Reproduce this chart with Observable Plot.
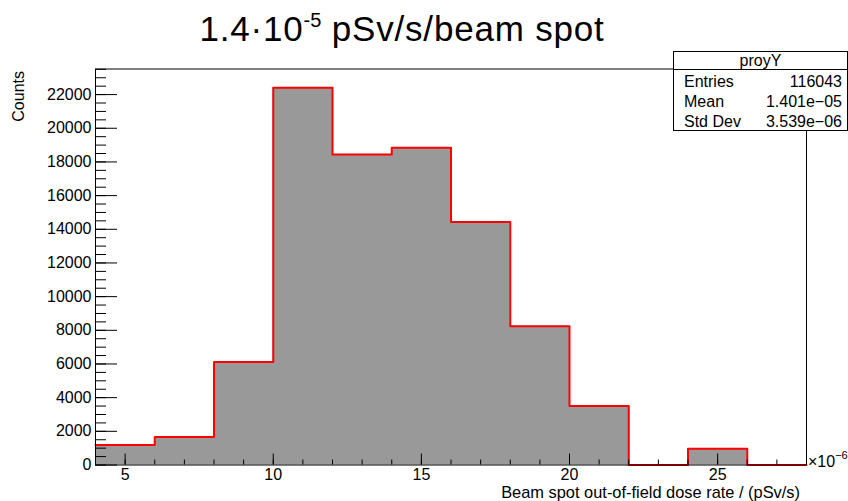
<!DOCTYPE html>
<html>
<head>
<meta charset="utf-8">
<script src="https://cdn.jsdelivr.net/npm/d3@7"></script>
<script src="https://cdn.jsdelivr.net/npm/@observablehq/plot@0.6"></script>
<style>
  body { margin: 0; background: #fff; }
  #wrap { position: relative; width: 848px; height: 501px; overflow: hidden;
          font-family: "Liberation Sans", Arial, sans-serif; color: #000; background: #fff; }
  #chart { position: absolute; left: 0; top: 0; }
  .abs { position: absolute; white-space: nowrap; line-height: 1; }
  #title { left: 0; width: 804px; text-align: center; top: 11px; font-size: 35px; letter-spacing: 0.8px; }
  #title sup { font-size: 20px; vertical-align: 0; position: relative; top: -14px; letter-spacing: 0; }
  #ylab { font-size: 16px; left: 11px; top: 71px; transform-origin: 0 0; transform: rotate(-90deg) translate(-100%, 0); }
  #xlab { font-size: 16.4px; right: 48px; top: 484px; }
  #xexp { font-size: 16px; left: 808px; top: 454px; }
  #xexp sup { font-size: 11px; position: relative; top: -8px; vertical-align: 0; }
  #stats { position: absolute; left: 673px; top: 51px; width: 173px; height: 78px;
           border: 1px solid #000; background: #fff; font-size: 16px; }
  #stats .hdr { position: absolute; left: 0; right: 0; top: 0; height: 17px; border-bottom: 1px solid #000;
                text-align: center; line-height: 17px; }
  #stats .k { position: absolute; left: 10px; }
  #stats .v { position: absolute; right: 5px; }
</style>
</head>
<body>
<div id="wrap">
  <div id="chart"></div>
  <div id="title" class="abs">1.4·10<sup>-5</sup> pSv/s/beam spot</div>
  <div id="ylab" class="abs">Counts</div>
  <div id="xlab" class="abs">Beam spot out-of-field dose rate / (pSv/s)</div>
  <div id="xexp" class="abs">×10<sup>−6</sup></div>
  <div id="stats"></div>
</div>
<script>
// Histogram bins (x in units of 1e-6 pSv/s)
const binLow  = [4, 6, 8, 10, 12, 14, 16, 18, 20, 22, 24, 26];
const binHigh = [6, 8, 10, 12, 14, 16, 18, 20, 22, 24, 26, 28];
const counts  = [1190, 1660, 6120, 22400, 18440, 18840, 14440, 8240, 3510, 0, 970, 0];

// Axis ticks
const xMajorTicks = [5, 10, 15, 20, 25];
const yMajorTicks = [0, 2000, 4000, 6000, 8000, 10000, 12000, 14000, 16000, 18000, 20000, 22000];

// Statistics box
const statsTitle = "proyY";
const statsKeys = ["Entries", "Mean", "Std Dev"];
const statsVals = ["116043", "1.401e\u221205", "3.539e\u221206"];

const xDomain = [4, 28];
const yMax = d3.max(counts) * 1.05;

const outline = binLow.map((x, i) => ({x, y: counts[i]})).concat([{x: binHigh[binHigh.length - 1], y: 0}]);

const xMinor = d3.range(xDomain[0], xDomain[1] + 0.001, 1);
const yMinor = d3.range(0, yMax, 500);

const W = 848, H = 501, mT = 68.5, mB = 36.5, mL = 95, mR = 42;
const frameW = W - mL - mR, frameH = H - mT - mB;
// convert tick lengths in pixels into data units (linear scales)
const yLen = px => yMax * px / frameH;
const xLen = px => (xDomain[1] - xDomain[0]) * px / frameW;

const chart = Plot.plot({
  width: W,
  height: H,
  marginTop: mT,
  marginBottom: mB,
  marginLeft: mL,
  marginRight: mR,
  style: {fontFamily: "'Liberation Sans', Arial, sans-serif", fontSize: "16px", color: "#000", background: "transparent"},
  x: {domain: xDomain, axis: null},
  y: {domain: [0, yMax], axis: null},
  marks: [
    Plot.areaY(outline, {x: "x", y: "y", curve: "step-after", fill: "#999999"}),
    Plot.line(outline, {x: "x", y: "y", curve: "step-after", stroke: "#ff0000", strokeWidth: 2}),
    // x axis ticks (inside the frame, pointing up)
    Plot.ruleX(xMinor, {x: d => d, y1: 0, y2: yLen(5), stroke: "#000"}),
    Plot.ruleX(xMajorTicks, {x: d => d, y1: 0, y2: yLen(11), stroke: "#000"}),
    Plot.axisX({ticks: xMajorTicks, tickSize: 0, tickPadding: 4, tickFormat: d => String(d), label: null, fontSize: 16}),
    // y axis ticks (inside the frame, pointing right)
    Plot.ruleY(yMinor, {y: d => d, x1: xDomain[0], x2: xDomain[0] + xLen(11), stroke: "#000"}),
    Plot.ruleY(yMajorTicks, {y: d => d, x1: xDomain[0], x2: xDomain[0] + xLen(22), stroke: "#000"}),
    Plot.axisY({ticks: yMajorTicks, tickSize: 0, tickPadding: 4, tickFormat: d => String(d), label: null, fontSize: 16}),
    Plot.frame({stroke: "#000", strokeWidth: 1})
  ]
});
document.getElementById("chart").appendChild(chart);

// stats box
const sb = document.getElementById("stats");
const hdr = document.createElement("div");
hdr.className = "hdr";
hdr.textContent = statsTitle;
sb.appendChild(hdr);
statsKeys.forEach((k, i) => {
  const top = 22 + i * 20;
  const kd = document.createElement("div");
  kd.className = "k abs"; kd.style.top = top + "px"; kd.textContent = k;
  const vd = document.createElement("div");
  vd.className = "v abs"; vd.style.top = top + "px"; vd.textContent = statsVals[i];
  sb.appendChild(kd); sb.appendChild(vd);
});
</script>
</body>
</html>
